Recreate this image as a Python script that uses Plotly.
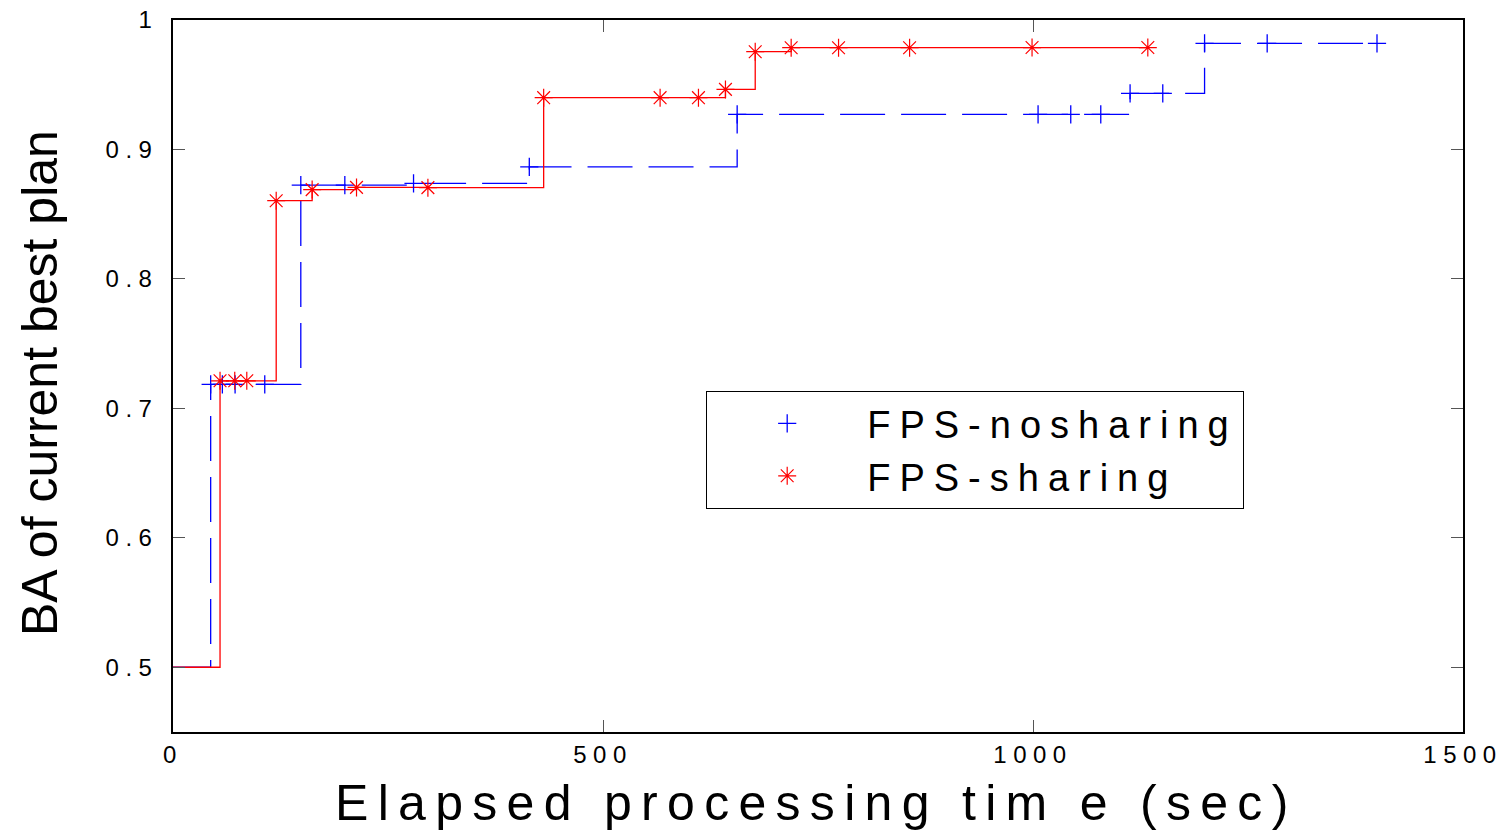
import plotly.graph_objects as go

# ---------------- data ----------------
nosharing_time = [0, 43.8, 57.4, 72.2, 106.7, 148.6, 199.8, 279.7, 414.3, 656.0,
                  1005.9, 1043.9, 1078.8, 1112.9, 1150.9, 1199.5, 1272.3, 1400.0]
nosharing_ba = [0.5, 0.7185, 0.7185, 0.7185, 0.7185, 0.8725, 0.8725, 0.8738, 0.8866, 0.9271,
                0.9271, 0.9271, 0.9271, 0.9433, 0.9433, 0.982, 0.982, 0.982]

sharing_time = [0, 54.7, 71.8, 85.8, 120.0, 161.8, 213.4, 296.4, 431.0, 566.4,
                611.0, 642.4, 677.0, 718.8, 773.9, 856.5, 998.9, 1133.5]
sharing_ba = [0.5, 0.7213, 0.7213, 0.7213, 0.8604, 0.869, 0.8707, 0.8705, 0.940, 0.940,
              0.940, 0.9464, 0.9755, 0.9786, 0.9786, 0.9786, 0.9787, 0.9787]

x_ticks = [0, 500, 1000, 1500]
x_tick_labels = ["0", "500", "1000", "1500"]
y_ticks = [0.5, 0.6, 0.7, 0.8, 0.9, 1.0]
y_tick_labels = ["0.5", "0.6", "0.7", "0.8", "0.9", "1"]

series_names = ["FPS-nosharing", "FPS-sharing"]
x_title = "Elapsed processing tim e (sec)"
y_title = "BA of current best plan"

# ---------------- figure ----------------
W, H = 1503, 831
L, R, T, B = 173, 40, 20, 99
FONT = "Liberation Sans, Arial, Helvetica, sans-serif"


def spaced(txt, px):
    return f'<span style="letter-spacing:{px}px">{txt}</span>'


fig = go.Figure()

# step lines
fig.add_trace(go.Scatter(
    x=nosharing_time, y=nosharing_ba, mode="lines", line_shape="hv",
    line=dict(color="rgb(0,0,255)", width=1.3, dash="45px,16px"),
    showlegend=False, hoverinfo="skip"))
fig.add_trace(go.Scatter(
    x=sharing_time, y=sharing_ba, mode="lines", line_shape="hv",
    line=dict(color="rgb(255,0,0)", width=1.3),
    showlegend=False, hoverinfo="skip"))

# markers (starting point at 0 has no marker)
fig.add_trace(go.Scatter(
    x=nosharing_time[1:], y=nosharing_ba[1:], mode="markers",
    marker=dict(symbol="cross-thin-open", size=13, color="rgb(0,0,255)",
                line=dict(color="rgb(0,0,255)", width=1.3)),
    name=spaced(series_names[0], 9)))
fig.add_trace(go.Scatter(
    x=sharing_time[1:], y=sharing_ba[1:], mode="markers",
    marker=dict(symbol="asterisk-open", size=15, color="rgb(255,0,0)",
                line=dict(color="rgb(255,0,0)", width=1.2)),
    name=spaced(series_names[1], 9)))

axis_common = dict(
    showline=True, linecolor="black", linewidth=1.5, mirror="ticks",
    ticks="inside", ticklen=12, tickwidth=1, tickcolor="#555",
    showgrid=False, zeroline=False,
    tickfont=dict(family=FONT, size=24, color="black"),
)

fig.update_xaxes(range=[0, 1500], tickvals=x_ticks,
                 ticktext=[spaced(t, 6.5) for t in x_tick_labels], **axis_common)
fig.update_yaxes(range=[0.45, 1.0], tickvals=y_ticks,
                 ticktext=[spaced(t, 6.5) for t in y_tick_labels],
                 ticklabelstandoff=8, **axis_common)

pw, ph = W - L - R, H - T - B
fig.add_annotation(text=spaced(x_title, 9.3), xref="paper", yref="paper",
                   x=(816 - L) / pw, y=(H - B - 803) / ph,
                   xanchor="center", yanchor="middle", showarrow=False,
                   font=dict(family=FONT, size=50, color="black"))
fig.add_annotation(text=y_title, xref="paper", yref="paper",
                   x=(40 - L) / pw, y=(H - B - 383) / ph, textangle=-90,
                   xanchor="center", yanchor="middle", showarrow=False,
                   font=dict(family=FONT, size=50, color="black"))

fig.update_layout(
    width=W, height=H,
    margin=dict(l=L, r=R, t=T, b=B, pad=0, autoexpand=False),
    paper_bgcolor="white", plot_bgcolor="white",
    legend=dict(
        x=(706 - L) / pw, y=(H - B - 391) / ph, xanchor="left", yanchor="top",
        bgcolor="white", bordercolor="black", borderwidth=1.2,
        font=dict(family=FONT, size=38, color="black"),
        itemwidth=150, tracegroupgap=0,
    ),
)

fig.write_html("out.html")
